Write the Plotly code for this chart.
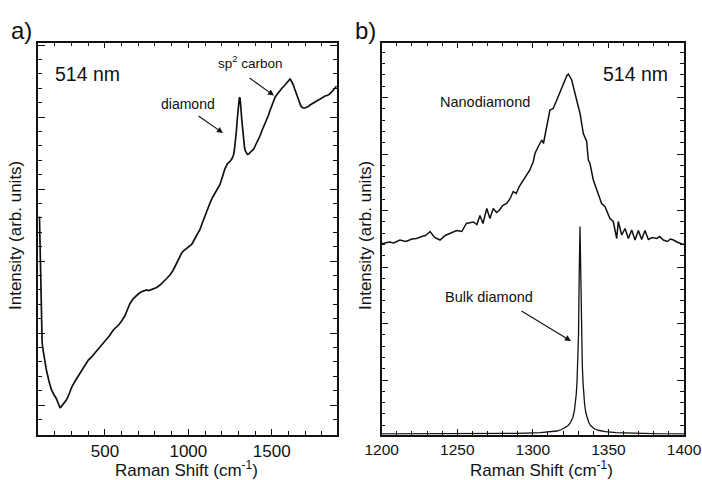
import plotly.graph_objects as go

# ---------------- data ----------------
# panel a) : broad spectrum, 514 nm
a_shift = [107, 109, 110, 112, 113, 115, 118, 123, 128, 138, 148, 163, 178, 193, 208, 220, 230, 236,
           242, 256, 270, 286, 302, 323, 344, 359, 374, 387, 400, 417, 434, 452, 470, 488, 506, 528,
           550, 567, 584, 602, 620, 635, 650, 670, 690, 703, 716, 733, 750, 763, 776, 793, 810, 830,
           850, 870, 890, 908, 926, 943, 960, 973, 986, 1003, 1020, 1033, 1046, 1058, 1070, 1085,
           1100, 1115, 1130, 1145, 1160, 1175, 1190, 1205, 1220, 1235, 1250, 1262, 1270, 1276, 1282,
           1288, 1294, 1298, 1302, 1306, 1310, 1313, 1316, 1320, 1324, 1328, 1332, 1337, 1342, 1349,
           1355, 1362, 1370, 1378, 1386, 1394, 1402, 1412, 1420, 1431, 1442, 1456, 1470, 1480, 1490,
           1500, 1510, 1521, 1532, 1541, 1550, 1565, 1580, 1590, 1598, 1604, 1610, 1615, 1620, 1625,
           1630, 1637, 1643, 1650, 1656, 1662, 1668, 1674, 1680, 1690, 1700, 1709, 1718, 1724, 1730,
           1742, 1754, 1767, 1780, 1791, 1802, 1811, 1820, 1832, 1844, 1857, 1870, 1880, 1890]
a_int = [218, 200, 185, 160, 145, 125, 105, 92, 85, 74, 65, 54, 45, 40, 36, 31, 27, 27.5,
         29, 32, 35, 41, 48, 54, 59.5, 63, 68, 71, 74.5, 77, 81, 84, 87.5, 91, 95, 99,
         104.5, 107, 110, 114, 119, 125, 131, 136, 139.5, 141, 142.5, 143.5, 144.5, 144, 145, 146, 147, 149.5,
         152.5, 156, 159.5, 164, 170, 176, 181.5, 184, 185.5, 187.5, 190, 194, 198, 201, 205, 212,
         219, 225, 231.5, 237, 241.5, 245, 250, 258, 266, 271, 273, 276, 279, 284, 292,
         303, 316, 326, 333, 336.5, 337, 333, 325, 316, 308, 300, 293, 287, 283.5, 281,
         280, 280.5, 282, 283.5, 284, 286, 289, 292, 295, 299, 304, 309, 314.5, 319, 324,
         329, 334, 337.5, 340, 342, 344.5, 347, 349.5, 351.5, 353.5, 355, 355.5, 354.5, 353, 351.5,
         349.5, 346, 343, 340, 337, 333.5, 331, 329, 327.5, 326.5, 326.5, 327, 328, 328.5, 329.5,
         330.5, 332, 333, 334.5, 335.5, 337, 337.5, 338.5, 339, 340, 342, 344.5, 346, 348.5]

# panel b) : nanodiamond spectrum
nano_shift = [1200, 1201, 1205, 1208, 1212, 1216, 1220, 1223, 1226.5, 1229, 1232, 1235, 1238.6, 1242,
              1245, 1249.6, 1253, 1256, 1260.6, 1263, 1265, 1267, 1269.5, 1271.6, 1273.8, 1276, 1278,
              1280, 1282.7, 1285, 1287, 1289, 1291, 1293.7, 1296, 1298, 1300.3, 1301.4, 1303.6, 1305.9,
              1307, 1309, 1311.3, 1313.5, 1315.8, 1318, 1320.2, 1322.4, 1323.5, 1324.6, 1325.7, 1327.9,
              1329.5, 1331.2, 1333.4, 1335.6, 1336.7, 1337.8, 1340, 1342.2, 1344, 1345.5, 1347.7, 1349.5,
              1351, 1353.2, 1355.5, 1356.5, 1358.8, 1361, 1363.2, 1365.4, 1367.6, 1369.8, 1372, 1374.2,
              1376.4, 1379, 1382, 1384, 1386.3, 1389, 1391, 1393, 1396, 1399.5, 1400]
nano_int = [191, 191, 192.5, 191.5, 194.5, 193, 195.5, 196, 198, 199, 203, 197, 194.5, 199,
            201, 204, 203, 211, 212.5, 210, 219, 211, 226, 216, 226, 222, 224.5,
            229, 231, 236, 243, 241, 248, 254.5, 260, 264.5, 273, 281, 288, 294.5,
            291, 307.8, 324.5, 326, 334.5, 342.8, 351, 358.5, 360.5, 357, 354.5, 341,
            332, 321, 301, 293, 274.5, 271, 254.5, 244.5, 238, 231, 228, 221,
            216, 213, 196, 213, 199.5, 206, 196, 204.5, 194.5, 204, 195, 204,
            195, 197, 196, 198, 194.5, 193, 195.5, 194.5, 192, 190, 190.5]

# panel b) : bulk diamond line
bulk_shift = [1200, 1230, 1260, 1290, 1305, 1311, 1316, 1319, 1321, 1323, 1324.5, 1325.5, 1326.5,
              1327.5, 1328.2, 1328.7, 1329.2, 1329.7, 1330.2, 1330.7, 1331.2, 1331.7, 1332.2, 1332.7,
              1333.2, 1333.7, 1334.2, 1335, 1336, 1337, 1338.5, 1341, 1344, 1348, 1355, 1370, 1385, 1400]
bulk_int = [0.5, 0.6, 0.8, 1.2, 1.8, 2.6, 3.5, 5, 6.5, 8.5, 11, 13.5, 17,
            24, 31, 40, 52, 70, 99, 163, 208, 163, 99, 70, 52,
            40, 31, 22, 16, 12, 8.5, 5.5, 4, 2.8, 1.8, 1, 0.7, 0.5]

# axis ticks
a_xticks = [500, 1000, 1500]
b_xticks = [1200, 1250, 1300, 1350, 1400]

FONT = "Liberation Sans, Arial, sans-serif"
INK = "#111111"
W, H = 702, 480

fig = go.Figure()
fig.add_trace(go.Scatter(x=a_shift, y=a_int, mode="lines", line=dict(color=INK, width=1.7),
                         xaxis="x", yaxis="y", showlegend=False, hoverinfo="skip"))
fig.add_trace(go.Scatter(x=nano_shift, y=nano_int, mode="lines", line=dict(color=INK, width=1.5),
                         xaxis="x2", yaxis="y2", showlegend=False, hoverinfo="skip"))
fig.add_trace(go.Scatter(x=bulk_shift, y=bulk_int, mode="lines", line=dict(color=INK, width=1.3),
                         xaxis="x2", yaxis="y2", showlegend=False, hoverinfo="skip"))

ydom = [1 - 434.5 / H, 1 - 42.7 / H]
common = dict(showline=True, linecolor=INK, linewidth=1.5, mirror="allticks", ticks="inside",
              tickcolor=INK, tickwidth=1.2, showgrid=False, zeroline=False)

fig.update_layout(
    width=W, height=H, margin=dict(l=0, r=0, t=0, b=0, autoexpand=False),
    paper_bgcolor="white", plot_bgcolor="white",
    font=dict(family=FONT, color=INK),
    xaxis=dict(domain=[38.3 / W, 336.7 / W], range=[100, 1890], tickvals=a_xticks, ticklen=6,
               tickfont=dict(size=17, family=FONT, color=INK), anchor="y",
               minor=dict(dtick=100, tick0=0, ticklen=3.5, ticks="inside", tickcolor=INK, tickwidth=1.2, showgrid=False),
               **common),
    yaxis=dict(domain=ydom, range=[0, 391.8], tick0=29.5, dtick=72, ticklen=7, showticklabels=False,
               anchor="x",
               minor=dict(dtick=14.4, tick0=29.5, ticklen=4, ticks="inside", tickcolor=INK, tickwidth=1.2, showgrid=False),
               **common),
    xaxis2=dict(domain=[381.7 / W, 684 / W], range=[1200, 1400], tickvals=b_xticks, ticklen=6,
                tickfont=dict(size=15.5, family=FONT, color=INK), anchor="y2",
                minor=dict(dtick=10, tick0=1200, ticklen=3.5, ticks="inside", tickcolor=INK, tickwidth=1.2, showgrid=False),
                **common),
    yaxis2=dict(domain=ydom, range=[0, 391.8], tick0=54.5, dtick=56.5, ticklen=7, showticklabels=False,
                anchor="x2",
                minor=dict(dtick=11.3, tick0=54.5, ticklen=4, ticks="inside", tickcolor=INK, tickwidth=1.2, showgrid=False),
                **common),
)


def px(x, y):
    return x / W, 1 - y / H


def label(text, x, y, size, angle=0):
    xp, yp = px(x, y)
    fig.add_annotation(text=text, x=xp, y=yp, xref="paper", yref="paper", showarrow=False,
                       xanchor="center", yanchor="middle", textangle=angle,
                       font=dict(family=FONT, size=size, color=INK))


def arrow(tail, tip):
    xp, yp = px(*tip)
    fig.add_annotation(text="", x=xp, y=yp, xref="paper", yref="paper", showarrow=True,
                       ax=tail[0] - tip[0], ay=tail[1] - tip[1], axref="pixel", ayref="pixel",
                       arrowhead=2, arrowsize=1.1, arrowwidth=1.1, arrowcolor=INK, standoff=0)


label("a)", 21, 31, 24)
label("b)", 365, 31, 24)
label("514 nm", 87, 74, 19.5)
label("514 nm", 635, 74, 19.5)
label("sp<sup>2</sup> carbon", 250, 62, 13.5)
label("diamond", 187.5, 104, 14)
label("Nanodiamond", 485, 102.5, 14.5)
label("Bulk diamond", 489, 296.5, 14.5)
label("Intensity (arb. units)", 15, 236, 17, -90)
label("Intensity (arb. units)", 365, 236, 17, -90)
label("Raman Shift (cm<sup>-1</sup>)", 187, 469, 17)
label("Raman Shift (cm<sup>-1</sup>)", 541, 469, 17)

arrow((248, 77), (274, 95.5))
arrow((197, 115), (223, 133))
arrow((520, 310), (571, 341))

fig.write_html("out.html")
